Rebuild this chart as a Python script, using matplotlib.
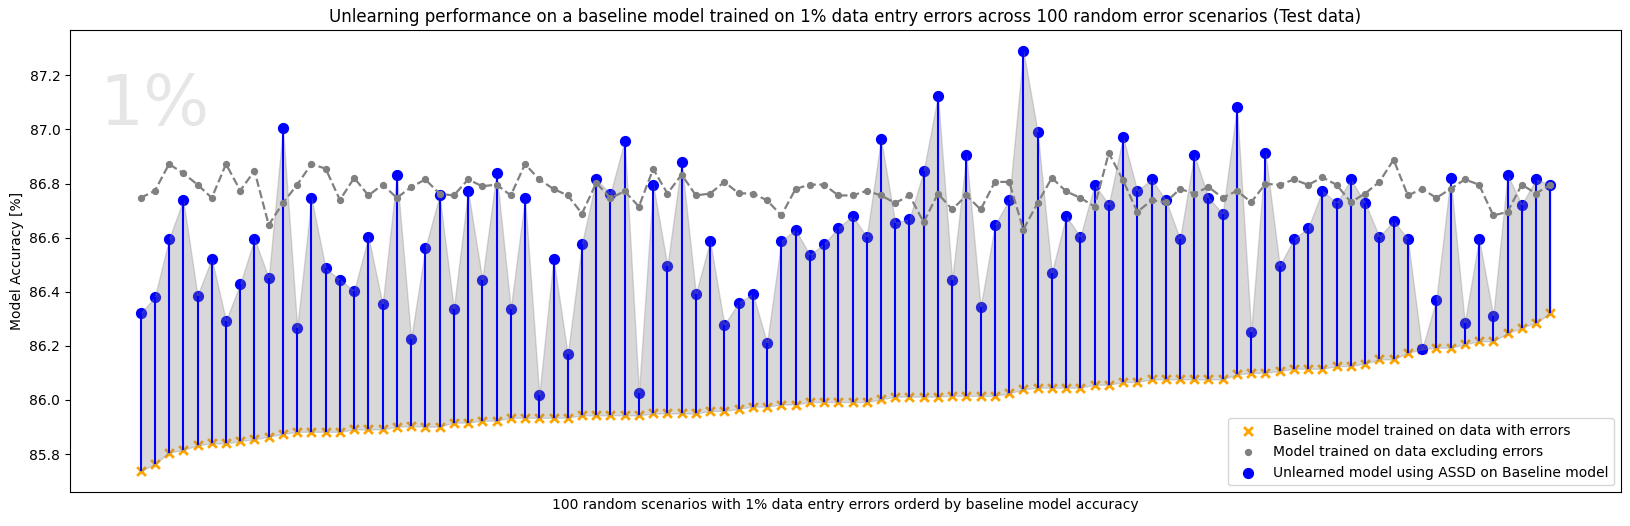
import matplotlib
matplotlib.use("Agg")
import matplotlib.pyplot as plt
import numpy as np

baseline = [85.736, 85.763, 85.805, 85.815, 85.832, 85.839, 85.839, 85.848, 85.854, 85.864,
            85.874, 85.882, 85.882, 85.882, 85.882, 85.891, 85.891, 85.891, 85.901, 85.903,
            85.901, 85.901, 85.916, 85.916, 85.923, 85.923, 85.934, 85.934, 85.934, 85.934,
            85.934, 85.943, 85.943, 85.943, 85.943, 85.943, 85.950, 85.950, 85.950, 85.950,
            85.959, 85.959, 85.967, 85.975, 85.975, 85.983, 85.983, 85.992, 85.992, 85.992,
            85.992, 85.992, 86.002, 86.012, 86.012, 86.012, 86.012, 86.015, 86.015, 86.015,
            86.015, 86.024, 86.039, 86.045, 86.045, 86.045, 86.045, 86.056, 86.056, 86.066,
            86.066, 86.076, 86.076, 86.076, 86.076, 86.076, 86.076, 86.094, 86.100, 86.100,
            86.107, 86.115, 86.115, 86.115, 86.125, 86.125, 86.134, 86.150, 86.150, 86.174,
            86.187, 86.193, 86.193, 86.205, 86.217, 86.217, 86.246, 86.267, 86.285, 86.320]

excluding = [86.747, 86.773, 86.872, 86.838, 86.796, 86.747, 86.872, 86.774, 86.847, 86.647,
             86.728, 86.796, 86.872, 86.855, 86.739, 86.821, 86.756, 86.796, 86.747, 86.787,
             86.815, 86.762, 86.756, 86.815, 86.790, 86.796, 86.756, 86.872, 86.815, 86.780,
             86.756, 86.689, 86.802, 86.747, 86.771, 86.715, 86.854, 86.763, 86.833, 86.756,
             86.763, 86.806, 86.764, 86.763, 86.738, 86.682, 86.780, 86.796, 86.796, 86.756,
             86.756, 86.773, 86.756, 86.728, 86.756, 86.657, 86.763, 86.704, 86.756, 86.704,
             86.806, 86.806, 86.630, 86.728, 86.821, 86.771, 86.747, 86.715, 86.913, 86.812,
             86.695, 86.738, 86.731, 86.780, 86.763, 86.787, 86.747, 86.773, 86.731, 86.799,
             86.795, 86.815, 86.795, 86.823, 86.795, 86.731, 86.763, 86.806, 86.888, 86.756,
             86.780, 86.747, 86.780, 86.815, 86.796, 86.682, 86.695, 86.796, 86.763, 86.796]

unlearned = [86.320, 86.379, 86.595, 86.739, 86.386, 86.522, 86.293, 86.429, 86.595, 86.451,
             87.005, 86.267, 86.746, 86.486, 86.444, 86.403, 86.603, 86.353, 86.832, 86.226,
             86.562, 86.756, 86.337, 86.773, 86.445, 86.839, 86.337, 86.747, 86.017, 86.522,
             86.168, 86.577, 86.815, 86.763, 86.959, 86.027, 86.796, 86.496, 86.880, 86.392,
             86.588, 86.278, 86.359, 86.392, 86.211, 86.588, 86.629, 86.536, 86.577, 86.636,
             86.680, 86.603, 86.965, 86.655, 86.669, 86.847, 87.125, 86.445, 86.906, 86.344,
             86.647, 86.739, 87.290, 86.991, 86.470, 86.680, 86.603, 86.796, 86.722, 86.972,
             86.773, 86.815, 86.739, 86.595, 86.906, 86.747, 86.689, 87.083, 86.252, 86.913,
             86.496, 86.595, 86.636, 86.773, 86.728, 86.815, 86.728, 86.603, 86.662, 86.595,
             86.187, 86.370, 86.821, 86.285, 86.595, 86.312, 86.832, 86.722, 86.815, 86.796]

title = "Unlearning performance on a baseline model trained on 1% data entry errors across 100 random error scenarios (Test data)"
xlabel = "100 random scenarios with 1% data entry errors orderd by baseline model accuracy"
ylabel = "Model Accuracy [%]"
watermark = "1%"

x = np.arange(len(baseline))

fig, ax = plt.subplots(figsize=(16.3, 5.26), dpi=100)
fig.subplots_adjust(left=0.043, right=0.9943, top=0.943, bottom=0.064)

ax.scatter(x, baseline, color="orange", marker="x", s=40, linewidths=2, zorder=2,
           label="Baseline model trained on data with errors")
ax.scatter(x, unlearned, color="blue", s=50, zorder=2.5,
           label="Unlearned model using ASSD on Baseline model")
ax.fill_between(x, baseline, unlearned, color="gray", alpha=0.3, zorder=3)
ax.vlines(x, baseline, unlearned, color="blue", linewidth=1.5, zorder=4)
ax.plot(x, excluding, color="gray", linestyle="--", linewidth=1.6, zorder=5)
ax.scatter(x, excluding, color="gray", s=18, zorder=5,
           label="Model trained on data excluding errors")

ax.text(0.019, 0.795, watermark, transform=ax.transAxes, fontsize=50,
        color="#e6e6e6", va="baseline", ha="left", zorder=1)

ax.set_title(title, fontsize=12)
ax.set_xlabel(xlabel, fontsize=10)
ax.set_ylabel(ylabel, fontsize=10)
ax.set_xticks([])

h, l = ax.get_legend_handles_labels()
order = [0, 2, 1]
ax.legend([h[i] for i in order], [l[i] for i in order], loc="lower right", fontsize=10)

fig.savefig("out.png", dpi=100)
